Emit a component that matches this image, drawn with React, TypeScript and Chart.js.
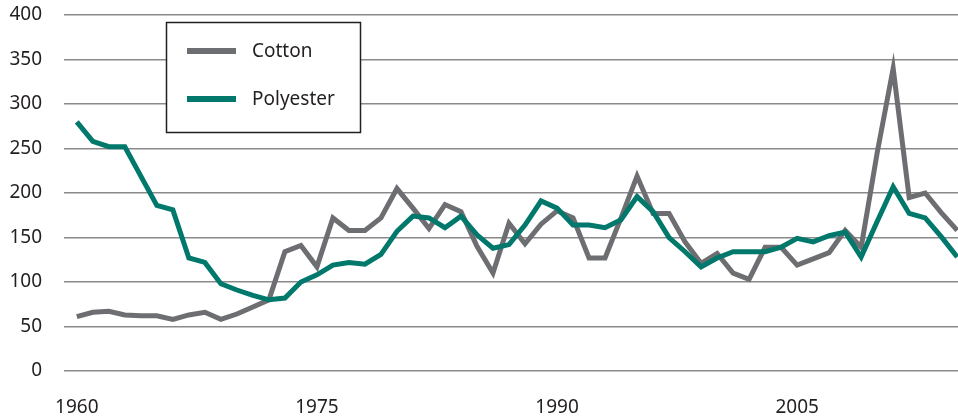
import React, { useEffect, useRef } from "react";
import { Chart, registerables } from "chart.js";

Chart.register(...registerables);

const years = [
  1960, 1961, 1962, 1963, 1964, 1965, 1966, 1967, 1968, 1969,
  1970, 1971, 1972, 1973, 1974, 1975, 1976, 1977, 1978, 1979,
  1980, 1981, 1982, 1983, 1984, 1985, 1986, 1987, 1988, 1989,
  1990, 1991, 1992, 1993, 1994, 1995, 1996, 1997, 1998, 1999,
  2000, 2001, 2002, 2003, 2004, 2005, 2006, 2007, 2008, 2009,
  2010, 2011, 2012, 2013, 2014, 2015,
];

const cotton = [
  61, 66, 67, 63, 62, 62, 58, 63, 66, 58,
  64, 72, 80, 134, 141, 117, 172, 158, 158, 172,
  205, 183, 160, 187, 179, 140, 110, 166, 143, 165,
  180, 172, 127, 127, 172, 219, 177, 177, 145, 121,
  132, 110, 103, 139, 139, 119, 126, 133, 158, 139,
  245, 340, 195, 200, 178, 158,
];

const polyester = [
  280, 258, 252, 252, 219, 186, 181, 127, 122, 98,
  91, 85, 80, 82, 100, 108, 119, 122, 120, 131,
  157, 174, 172, 161, 174, 153, 138, 142, 164, 191,
  183, 164, 164, 161, 170, 196, 179, 150, 134, 117,
  127, 134, 134, 134, 139, 149, 145, 152, 156, 128,
  168, 207, 177, 172, 151, 128,
];

const xTickLabels = [1960, 1975, 1990, 2005];
const yTicks = [0, 50, 100, 150, 200, 250, 300, 350, 400];

const seriesNames = ["Cotton", "Polyester"];
const seriesColors = ["#6d6e71", "#00786b"];

const FONT = '"Noto Sans", "Open Sans", sans-serif';
const TEXT = "#231f20";

const boxLegend = {
  id: "boxLegend",
  afterDraw(chart: any) {
    const ctx = chart.ctx as CanvasRenderingContext2D;
    ctx.save();
    ctx.fillStyle = "#ffffff";
    ctx.fillRect(166, 22, 195, 111);
    ctx.strokeStyle = TEXT;
    ctx.lineWidth = 1.5;
    ctx.strokeRect(166.5, 22.5, 194, 110);
    const rows = [51, 99];
    seriesNames.forEach((name, i) => {
      const y = rows[i];
      ctx.strokeStyle = seriesColors[i];
      ctx.lineWidth = 6;
      ctx.lineCap = "butt";
      ctx.beginPath();
      ctx.moveTo(187, y);
      ctx.lineTo(236, y);
      ctx.stroke();
      ctx.fillStyle = TEXT;
      ctx.font = `19px ${FONT}`;
      ctx.textBaseline = "middle";
      ctx.textAlign = "left";
      ctx.fillText(name, 252, y + 1);
    });
    ctx.restore();
  },
};

export default function App() {
  const ref = useRef<HTMLCanvasElement | null>(null);

  useEffect(() => {
    document.body.style.margin = "0";
    if (!ref.current) return;
    const chart = new Chart(ref.current, {
      type: "line",
      data: {
        datasets: [
          {
            label: seriesNames[0],
            data: years.map((yr, i) => ({ x: yr, y: cotton[i] })),
            borderColor: seriesColors[0],
            backgroundColor: seriesColors[0],
            borderWidth: 5,
            pointRadius: 0,
            tension: 0,
            order: 1,
          },
          {
            label: seriesNames[1],
            data: years.map((yr, i) => ({ x: yr, y: polyester[i] })),
            borderColor: seriesColors[1],
            backgroundColor: seriesColors[1],
            borderWidth: 5,
            pointRadius: 0,
            tension: 0,
            order: 0,
          },
        ],
      },
      options: {
        animation: false,
        responsive: true,
        maintainAspectRatio: false,
        layout: { padding: { top: 15, left: 0, right: 0, bottom: 0 } },
        plugins: {
          legend: { display: false },
          tooltip: { enabled: false },
        },
        scales: {
          x: {
            type: "linear",
            min: 1959.2,
            max: 2015.05,
            grid: { display: false, drawTicks: false },
            border: { display: false },
            afterBuildTicks: (scale: any) => {
              scale.ticks = xTickLabels.map((v) => ({ value: v }));
            },
            afterFit: (scale: any) => {
              scale.height = 47;
              scale.paddingLeft = 0;
              scale.paddingRight = 0;
            },
            ticks: {
              autoSkip: false,
              maxRotation: 0,
              padding: 25,
              color: TEXT,
              font: { family: FONT, size: 19 },
              callback: (v: any) => String(v),
            },
          },
          y: {
            min: 0,
            max: 400,
            afterBuildTicks: (scale: any) => {
              scale.ticks = yTicks.map((v) => ({ value: v }));
            },
            afterFit: (scale: any) => {
              scale.width = 64;
              scale.paddingTop = 0;
              scale.paddingBottom = 0;
            },
            grid: { color: "#8a8a8a", lineWidth: 1.5, drawTicks: false },
            border: { display: false },
            ticks: {
              padding: 22,
              color: TEXT,
              font: { family: FONT, size: 19 },
            },
          },
        },
      },
      plugins: [boxLegend],
    });
    return () => chart.destroy();
  }, []);

  return (
    <div style={{ position: "absolute", left: 0, top: 0, width: 958, height: 418 }}>
      <canvas ref={ref} />
    </div>
  );
}
